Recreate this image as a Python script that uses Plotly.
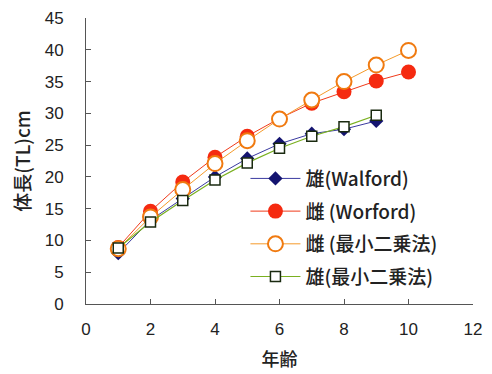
import plotly.graph_objects as go

ages = [1, 2, 3, 4, 5, 6, 7, 8, 9, 10]
male_walford = [8.0, 13.2, 16.6, 20.0, 22.9, 25.2, 26.8, 27.5, 28.8]
female_walford = [8.9, 14.6, 19.2, 23.1, 26.4, 29.2, 31.6, 33.4, 35.1, 36.5]
female_ls = [8.7, 13.7, 18.0, 22.1, 25.7, 29.1, 32.1, 35.0, 37.6, 39.9]
male_ls = [8.8, 12.9, 16.3, 19.5, 22.2, 24.5, 26.4, 27.9, 29.7]

names = ["雄(Walford)", "雌 (Worford)", "雌 (最小二乗法)", "雄(最小二乗法)"]
x_ticks = [0, 2, 4, 6, 8, 10, 12]
y_ticks = [0, 5, 10, 15, 20, 25, 30, 35, 40, 45]

fig = go.Figure()
fig.add_trace(go.Scatter(x=ages[:len(male_walford)], y=male_walford, name=names[0], mode="lines+markers",
                         line=dict(color="#3a3aa0", width=1),
                         marker=dict(symbol="diamond", size=11, color="#141470"), legendgroup="a"))
fig.add_trace(go.Scatter(x=ages, y=female_walford, name=names[1], mode="lines+markers",
                         line=dict(color="#f03a1a", width=1),
                         marker=dict(symbol="circle", size=15, color="#f52a10"), legendgroup="b"))
fig.add_trace(go.Scatter(x=ages, y=female_ls, name=names[2], mode="lines+markers",
                         line=dict(color="#f59a2a", width=1),
                         marker=dict(symbol="circle", size=15, color="white",
                                     line=dict(color="#f07a10", width=2)), legendgroup="c"))
fig.add_trace(go.Scatter(x=ages[:len(male_ls)], y=male_ls, name=names[3], mode="lines+markers",
                         line=dict(color="#7ab020", width=1.2),
                         marker=dict(symbol="square", size=10, color="white",
                                     line=dict(color="#1a2a10", width=1.5)), legendgroup="d"))

font_jp = "Noto Sans CJK JP"
fig.update_layout(
    width=484, height=366,
    margin=dict(l=78, r=19, t=10, b=70, autoexpand=False),
    plot_bgcolor="white", paper_bgcolor="white",
    font=dict(family="Liberation Sans, Arial", size=17, color="#222"),
    legend=dict(x=0.412, y=0.505, xanchor="left", yanchor="top",
                font=dict(family=font_jp, size=19, color="#222", weight=500),
                bgcolor="rgba(255,255,255,0)", tracegroupgap=5, itemwidth=50),
    xaxis=dict(range=[0, 12], tickvals=x_ticks, showgrid=False, zeroline=False,
               showline=True, linecolor="#555", linewidth=1, ticks="inside", ticklen=5,
               tickcolor="#555", tickfont=dict(size=17), ticklabelstandoff=10, automargin=False,
               title=dict(text="年齢", font=dict(family=font_jp, size=18, weight=500), standoff=14)),
    yaxis=dict(range=[0, 45], tickvals=y_ticks, showgrid=False, zeroline=False,
               showline=True, linecolor="#555", linewidth=1, ticks="inside", ticklen=5,
               tickcolor="#555", tickfont=dict(size=17), ticklabelstandoff=18, automargin=False,
               title=dict(text="体長(TL)cm", font=dict(family=font_jp, size=19, weight=500), standoff=12)),
)
fig.write_html("out.html")
